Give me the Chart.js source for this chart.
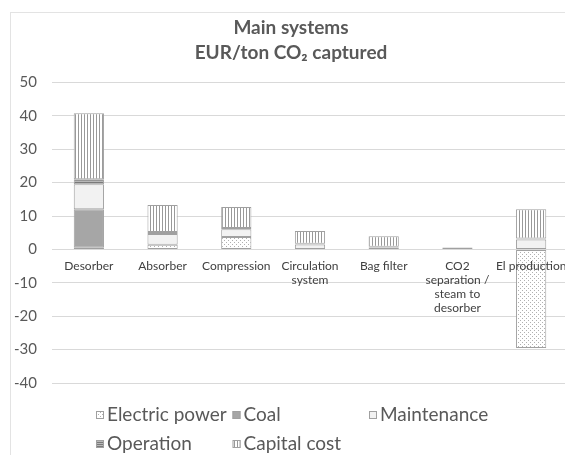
<!DOCTYPE html>
<html>
<head>
<meta charset="utf-8">
<script src="https://cdn.jsdelivr.net/npm/chart.js@4.4.1/dist/chart.umd.min.js"></script>
<style>
  html, body { margin: 0; padding: 0; background: #fff; overflow: hidden; }
  #wrap { width: 580px; height: 455px; }
</style>
</head>
<body>
<div id="wrap"><canvas id="costChart" width="580" height="455"></canvas></div>
<script>
// values, EUR per ton CO2
let categories = ['Desorber', 'Absorber', 'Compression', ['Circulation', 'system'], 'Bag filter',
    ['CO2', 'separation /', 'steam to', 'desorber'], 'El production'];
let electricPower = [0.5, 1.4, 3.7, null, null, null, -29.5];
let coal = [11.5, null, null, null, null, null, null];
let maintenance = [7.5, 3.2, 2.3, 1.5, 0.6, null, 3.0];
let operation = [1.5, 0.6, 0.4, 0.2, 0.2, null, 0.3];
let capitalCost = [19.8, 8.1, 6.3, 3.8, 3.1, 0.6, 8.7];
let yTicks = [50, 40, 30, 20, 10, 0, -10, -20, -30, -40];
let seriesNames = ['Electric power', 'Coal', 'Maintenance', 'Operation', 'Capital cost'];

const FONT = 'Lato, "Open Sans", sans-serif';
const TEXT = '#595959';
const EDGE = '#a0a0a0';

function makePattern(w, h, paint) {
    var c = document.createElement('canvas');
    c.width = w; c.height = h;
    var g = c.getContext('2d');
    paint(g);
    return g.createPattern(c, 'repeat');
}

var dotted = makePattern(4, 4, function(g) {
    g.fillStyle = '#fff'; g.fillRect(0, 0, 4, 4);
    g.fillStyle = '#b0b0b0'; g.fillRect(0, 0, 1, 1); g.fillRect(2, 2, 1, 1);
});
var hLines = makePattern(1, 2, function(g) {
    g.fillStyle = '#7a7a7a'; g.fillRect(0, 0, 1, 1);
    g.fillStyle = '#b8b8b8'; g.fillRect(0, 1, 1, 1);
});
var vLines = makePattern(3, 1, function(g) {
    g.fillStyle = '#fff'; g.fillRect(0, 0, 3, 1);
    g.fillStyle = '#999'; g.fillRect(0, 0, 1, 1);
});

var fills = [dotted, '#a6a6a6', '#f2f2f2', hLines, vLines];
var series = [electricPower, coal, maintenance, operation, capitalCost];

var frame = {
    id: 'frame',
    beforeDraw: function(chart) {
        var ctx = chart.ctx;
        ctx.save();
        ctx.fillStyle = '#fff';
        ctx.fillRect(0, 0, chart.width, chart.height);
        ctx.strokeStyle = '#e3e3e3';
        ctx.lineWidth = 1;
        ctx.strokeRect(10.5, 12.5, chart.width + 20, chart.height + 20);
        ctx.restore();
    }
};

// excel-like legend laid out in columns
var gridLegend = {
    id: 'gridLegend',
    afterDraw: function(chart) {
        var ctx = chart.ctx;
        ctx.save();
        ctx.font = '19px ' + FONT;
        ctx.textBaseline = 'middle';
        for (var i = 0; i < chart.data.datasets.length; i++) {
            var ds = chart.data.datasets[i];
            var col = i % 3, row = Math.floor(i / 3);
            var x = 96 + col * 136.5;
            var y = 415 + row * 29;
            ctx.fillStyle = ds.backgroundColor;
            ctx.fillRect(x, y - 4, 8, 8);
            ctx.strokeStyle = EDGE;
            ctx.strokeRect(x + 0.5, y - 3.5, 7, 7);
            ctx.fillStyle = TEXT;
            ctx.fillText(ds.label, x + 11, y);
        }
        ctx.restore();
    }
};

var ctx = document.getElementById('costChart').getContext('2d');
var costChart = new Chart(ctx, {
    type: 'bar',
    data: {
        labels: categories,
        datasets: series.map(function(values, i) {
            return {
                label: seriesNames[i],
                data: values,
                backgroundColor: fills[i],
                borderColor: EDGE,
                borderWidth: 1,
                borderSkipped: false,
                categoryPercentage: 1,
                barPercentage: 0.41
            };
        })
    },
    options: {
        responsive: false,
        animation: false,
        layout: { padding: { left: 14, right: 12, top: 0, bottom: 72 } },
        plugins: {
            legend: { display: false },
            tooltip: { enabled: false },
            title: {
                display: true,
                text: ['Main systems', 'EUR/ton CO\u2082 captured'],
                color: TEXT,
                font: { family: FONT, size: 19, weight: 'bold', lineHeight: 1.3 },
                padding: { top: 16, bottom: 17 }
            }
        },
        scales: {
            x: {
                stacked: true,
                position: { y: 0 },
                grid: { display: false, drawTicks: false },
                border: { color: '#d9d9d9' },
                ticks: {
                    z: 1,
                    color: '#404040',
                    font: { family: FONT, size: 12, lineHeight: 1.17 },
                    padding: 10,
                    autoSkip: false,
                    maxRotation: 0,
                    minRotation: 0
                }
            },
            y: {
                stacked: true,
                min: -40,
                max: 50,
                afterFit: function(scale) { scale.width = 38; },
                afterBuildTicks: function(scale) {
                    scale.ticks = yTicks.map(function(v) { return { value: v }; });
                },
                grid: { color: '#d9d9d9', drawTicks: false },
                border: { display: false },
                ticks: {
                    color: TEXT,
                    font: { family: FONT, size: 15 },
                    padding: 15
                }
            }
        }
    },
    plugins: [frame, gridLegend]
});
</script>
</body>
</html>
